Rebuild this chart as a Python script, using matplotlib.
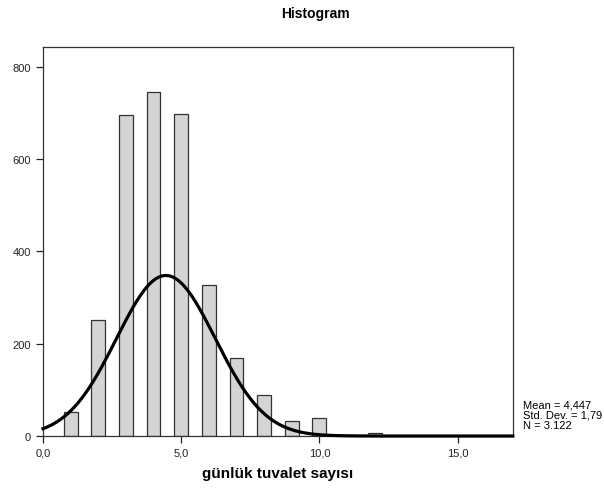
import numpy as np
import matplotlib.pyplot as plt

plt.rcParams['font.family'] = ['Liberation Sans', 'DejaVu Sans']

# Frekanslar (günlük tuvalet sayısı -> kişi sayısı)
degerler = [1, 2, 3, 4, 5, 6, 7, 8, 9, 10, 11, 12]
frekans = [52, 252, 695, 745, 697, 328, 168, 88, 33, 38, 3, 7]

# SPSS özet istatistikleri
ortalama = 4.447
std_sapma = 1.79
n_toplam = 3122
bin_genislik = 0.5

fig = plt.figure(figsize=(6.04, 4.89), dpi=100)
ax = fig.add_axes([0.0712, 0.1063, 0.7778, 0.7955])

ax.bar(degerler, frekans, width=bin_genislik, color="#d4d4d4",
       edgecolor="#333333", linewidth=0.9, zorder=2)

# Normal eğri
x = np.linspace(0, 17, 400)
y = n_toplam * bin_genislik / (std_sapma * np.sqrt(2 * np.pi)) * \
    np.exp(-0.5 * ((x - ortalama) / std_sapma) ** 2)
ax.plot(x, y, color="black", linewidth=2.3, zorder=3, clip_on=False)

ax.set_xlim(0, 17)
ax.set_ylim(0, 843)
ax.set_xticks([0, 5, 10, 15])
ax.set_xticklabels(["0,0", "5,0", "10,0", "15,0"])
ax.set_yticks([0, 200, 400, 600, 800])
ax.tick_params(direction="out", length=5, width=0.9, labelsize=8, colors="#222222")
for s in ax.spines.values():
    s.set_linewidth(0.9)
    s.set_color("#333333")

ax.set_xlabel("günlük tuvalet sayısı", fontsize=11, fontweight="bold", labelpad=6)
fig.text(315 / 604, 1 - 14 / 489, "Histogram", ha="center", va="center",
         fontsize=10, fontweight="bold")

fig.text(523 / 604, 1 - 416 / 489,
         "Mean = 4,447\nStd. Dev. = 1,79\nN = 3.122",
         ha="left", va="center", fontsize=8, linespacing=1.05)

plt.savefig("out.png", dpi=100)
